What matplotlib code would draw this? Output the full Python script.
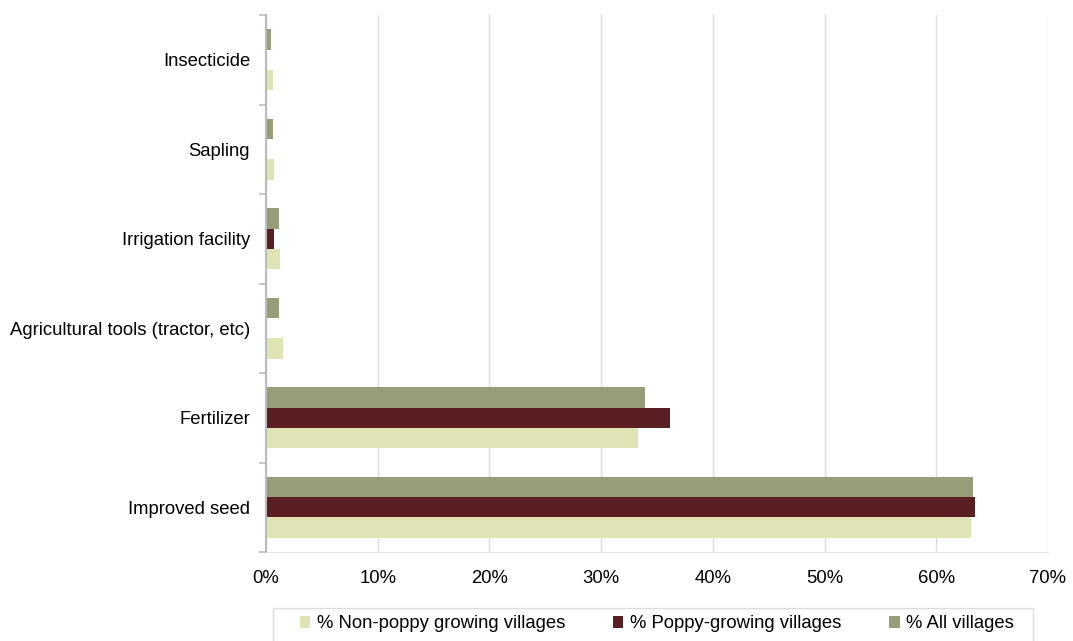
import matplotlib.pyplot as plt
import numpy as np
from matplotlib.patches import Rectangle
from matplotlib.ticker import FixedLocator, PercentFormatter

plt.rcParams["font.family"] = ["Liberation Sans", "DejaVu Sans"]

categories = ["Improved seed", "Fertilizer", "Agricultural tools (tractor, etc)",
              "Irrigation facility", "Sapling", "Insecticide"]
non_poppy = [63.1, 33.3, 1.5, 1.25, 0.7, 0.6]
poppy = [63.5, 36.2, 0.0, 0.7, 0.0, 0.0]
all_villages = [63.3, 33.9, 1.2, 1.2, 0.6, 0.45]

series = [
    ("% Non-poppy growing villages", non_poppy, "#e0e4b4", -1),
    ("% Poppy-growing villages", poppy, "#5a1f22", 0),
    ("% All villages", all_villages, "#999c78", 1),
]

W, H = 1073, 641
fs = 13.3
fig = plt.figure(figsize=(W / 100, H / 100), dpi=100)
ax = fig.add_axes([266 / W, 1 - 552 / H, (1048 - 266) / W, (552 - 15) / H])

y = np.arange(len(categories))
h = 0.228
for label, vals, color, off in series:
    ax.barh(y + off * h, vals, height=h, color=color, label=label, zorder=2)

ax.set_xlim(0, 70)
ax.set_ylim(-0.5, len(categories) - 0.5)
ax.set_xticks(np.arange(0, 71, 10))
ax.xaxis.set_major_formatter(PercentFormatter(decimals=0))
ax.set_yticks(y)
ax.set_yticklabels(categories)
ax.yaxis.set_minor_locator(FixedLocator(np.arange(-0.5, len(categories), 1)))
ax.tick_params(axis="y", which="major", length=0, labelsize=fs, pad=11.5)
ax.tick_params(axis="y", which="minor", length=5, color="#bbbbbb", width=1.2)
ax.tick_params(axis="x", length=0, labelsize=fs, pad=13)
ax.grid(axis="x", color="#dddddd", linewidth=1, zorder=0)

for side in ["top", "right"]:
    ax.spines[side].set_visible(False)
ax.spines["bottom"].set_color("#e6e6e6")
ax.spines["left"].set_color("#bbbbbb")
ax.spines["left"].set_linewidth(1.5)

# legend box drawn separately so the entries can sit edge to edge
fig.patches.append(Rectangle((273 / W, -0.01), (1033 - 273) / W, 0.01 + 33 / H,
                             transform=fig.transFigure, fill=False,
                             edgecolor="#dddddd", linewidth=1))
handles, labels = ax.get_legend_handles_labels()
fig.legend(handles, labels, loc="center", ncol=3,
           bbox_to_anchor=(300 / W, 1 - 634 / H, (1014 - 300) / W, 20 / H),
           mode="expand", fontsize=fs, frameon=False,
           handlelength=0.55, handleheight=0.55, handletextpad=0.35,
           borderaxespad=0, borderpad=0)

fig.savefig("out.png", dpi=100)
